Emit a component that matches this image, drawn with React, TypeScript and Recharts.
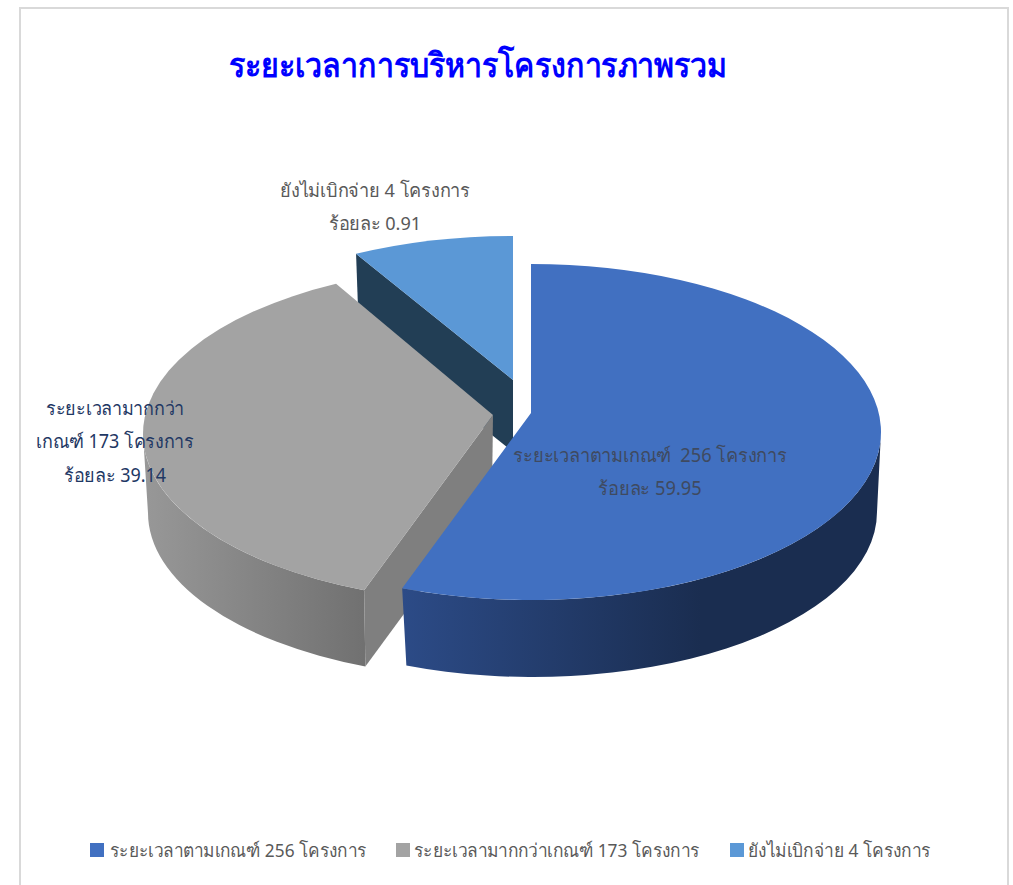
import { Cell, Legend, Pie, PieChart } from "recharts";

const sliceNames = [
  "ยังไม่เบิกจ่าย 4 โครงการ",
  "ระยะเวลามากกว่าเกณฑ์ 173 โครงการ",
  "ระยะเวลาตามเกณฑ์ 256 โครงการ",
];
// shares as drawn in the picture, which differ from the printed percentages
const sliceShares = [7.4, 36.6, 56];
const labelLines = [
  ["ยังไม่เบิกจ่าย 4 โครงการ", "ร้อยละ 0.91"],
  ["ระยะเวลามากกว่า", "เกณฑ์ 173 โครงการ", "ร้อยละ 39.14"],
  ["ระยะเวลาตามเกณฑ์  256 โครงการ", "ร้อยละ 59.95"],
];

const FONT = "'Noto Sans', 'Open Sans', sans-serif";
const TITLE = "ระยะเวลาการบริหารโครงการภาพรวม";
const KY = 0.48;

const looks = [
  { fill: "#5b98d6", face: "#223e55", wallFrom: "#223e55", wallTo: "#223e55", dx: -18, dy: -28, apex: -24, botDx: 0, botDy: 72 },
  { fill: "#a3a3a3", face: "#7f7f7f", wallFrom: "#989898", wallTo: "#717171", dx: -38, dy: 2, apex: -19, botDx: -1, botDy: 79 },
  { fill: "#4170c1", face: "#1a2d50", wallFrom: "#2c4b87", wallTo: "#1a2d50", dx: 0, dy: 0, apex: -19, botDx: 2, botDy: 80 },
];
const labelSpots = [
  { x: 375, y: 197, color: "#595959", squeeze: 0.955 },
  { x: 115, y: 415, color: "#1f3864", squeeze: 0.945 },
  { x: 650, y: 462, color: "#3f4a60", squeeze: 0.96 },
];
const legendSpots = [
  { box: 730, text: 748, squeeze: 0.94 },
  { box: 396, text: 414, squeeze: 0.938 },
  { box: 90, text: 110, squeeze: 0.934 },
];

const rad = (d: number) => (d * Math.PI) / 180;

const Slice3D = (props: any) => {
  const { cx, cy, outerRadius, startAngle, endAngle, fill, index } = props;
  const look = looks[index];
  const ex = cx + look.dx;
  const ey = cy + look.dy;
  const rx = outerRadius;
  const ry = outerRadius * KY;
  const rx2 = rx - 6;
  const ry2 = ry - 3;
  const top = (t: number) => [ex + rx * Math.cos(rad(t)), ey + ry * Math.sin(rad(t))];
  const bot = (t: number) => [
    ex + look.botDx + rx2 * Math.cos(rad(t)),
    ey + look.botDy + ry2 * Math.sin(rad(t)),
  ];
  const lo = -Math.max(startAngle, endAngle);
  const hi = -Math.min(startAngle, endAngle);
  const apex = [ex, ey + look.apex];
  const apexBot = [ex + look.botDx, ey + look.apex + look.botDy];

  const walls: string[] = [];
  for (let k = -2; k <= 1; k++) {
    const a = Math.max(lo, 360 * k);
    const b = Math.min(hi, 360 * k + 180);
    if (b > a) {
      const [x1, y1] = top(a);
      const [x2, y2] = top(b);
      const [x3, y3] = bot(b);
      const [x4, y4] = bot(a);
      walls.push(
        `M${x1} ${y1}A${rx} ${ry} 0 0 1 ${x2} ${y2}L${x3} ${y3}A${rx2} ${ry2} 0 0 0 ${x4} ${y4}Z`
      );
    }
  }
  const faces: number[] = [];
  if (Math.cos(rad(lo)) < -0.001) faces.push(lo);
  if (Math.cos(rad(hi)) > 0.001) faces.push(hi);

  const [sx, sy] = top(lo);
  const [tx, ty] = top(hi);
  const gradId = `wall-${index}`;
  return (
    <g>
      <defs>
        <linearGradient
          id={gradId}
          gradientUnits="userSpaceOnUse"
          x1={index === 1 ? ex - rx : ex - 130}
          x2={index === 1 ? ex - 130 : ex + 170}
          y1={0}
          y2={0}
        >
          <stop offset="0" stopColor={look.wallFrom} />
          <stop offset="1" stopColor={look.wallTo} />
        </linearGradient>
      </defs>
      {walls.map((d) => (
        <path key={d} d={d} fill={`url(#${gradId})`} />
      ))}
      {faces.map((t) => {
        const [x1, y1] = top(t);
        const [x2, y2] = bot(t);
        return (
          <path
            key={t}
            d={`M${apex[0]} ${apex[1]}L${x1} ${y1}L${x2} ${y2}L${apexBot[0]} ${apexBot[1]}Z`}
            fill={look.face}
          />
        );
      })}
      <path
        d={`M${apex[0]} ${apex[1]}L${sx} ${sy}A${rx} ${ry} 0 ${hi - lo > 180 ? 1 : 0} 1 ${tx} ${ty}Z`}
        fill={fill}
      />
    </g>
  );
};

const renderLabel = (props: any) => {
  const spot = labelSpots[props.index];
  return (
    <text
      transform={`translate(${spot.x} 0) scale(${spot.squeeze} 1)`}
      textAnchor="middle"
      fontFamily={FONT}
      fontSize={19}
      fill={spot.color}
    >
      {labelLines[props.index].map((line, i) => (
        <tspan key={i} x={0} y={spot.y + i * 33.5} style={{ whiteSpace: "pre" }}>
          {line}
        </tspan>
      ))}
    </text>
  );
};

const renderLegend = (props: any) => (
  <div
    style={{
      position: "relative",
      height: 28,
      fontFamily: FONT,
      fontSize: 18.5,
      color: "#595959",
      whiteSpace: "nowrap",
      lineHeight: "28px",
    }}
  >
    {props.payload.map((item: any, i: number) => {
      const spot = legendSpots[i];
      return (
        <div key={item.value}>
          <span
            style={{
              position: "absolute",
              left: spot.box,
              top: 7,
              width: 14,
              height: 14,
              background: item.color,
            }}
          />
          <span
            style={{
              position: "absolute",
              left: spot.text,
              top: 0,
              transform: `scaleX(${spot.squeeze})`,
              transformOrigin: "left",
            }}
          >
            {item.value}
          </span>
        </div>
      );
    })}
  </div>
);

const data = sliceNames.map((name, i) => ({ name, value: sliceShares[i] }));

export default function App() {
  return (
    <div style={{ position: "absolute", left: 0, top: 0, width: 1013, height: 885, background: "#fff", overflow: "hidden" }}>
      <div
        style={{
          position: "absolute",
          left: 19,
          top: 7,
          width: 986,
          height: 900,
          border: "2px solid #d9d9d9",
        }}
      />
      <div
        style={{
          position: "absolute",
          left: 0,
          top: 38,
          width: 955,
          textAlign: "center",
          fontFamily: FONT,
          fontWeight: 700,
          fontSize: 34,
          color: "#0000ff",
          whiteSpace: "nowrap",
          transform: "scaleX(0.892)",
        }}
      >
        {TITLE}
      </div>
      <div style={{ position: "absolute", left: 0, top: 0 }}>
        <PieChart width={1013} height={885} margin={{ top: 0, right: 0, bottom: 0, left: 0 }}>
          <Pie
            data={data}
            dataKey="value"
            nameKey="name"
            cx={531}
            cy={432}
            outerRadius={350}
            startAngle={90}
            endAngle={450}
            stroke="none"
            shape={Slice3D}
            label={renderLabel}
            labelLine={false}
            isAnimationActive={false}
          >
            {looks.map((look) => (
              <Cell key={look.fill} fill={look.fill} />
            ))}
          </Pie>
          <Legend
            content={renderLegend}
            itemSorter={null}
            wrapperStyle={{ left: 0, top: 836, width: 1013 }}
          />
        </PieChart>
      </div>
    </div>
  );
}
